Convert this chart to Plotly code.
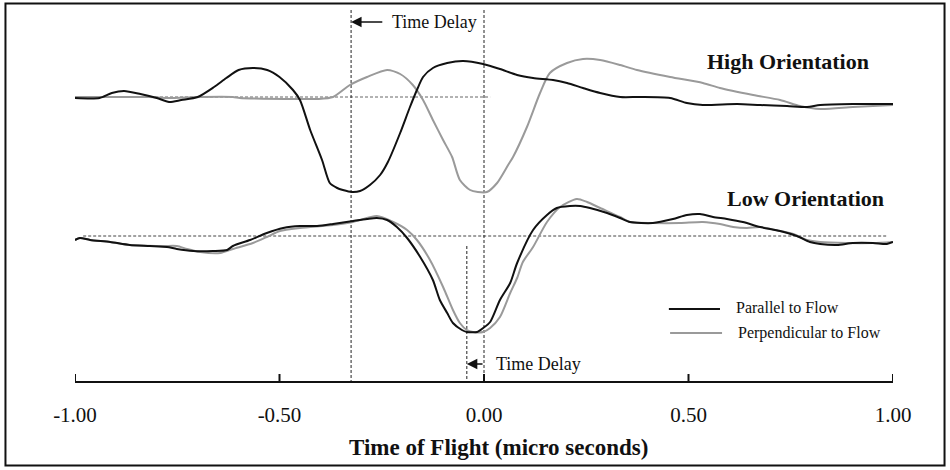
import plotly.graph_objects as go

# ---------------- data ----------------
# time axis in micro seconds, amplitudes in arbitrary units relative to each baseline
high_par_t = [-1.00, -0.94, -0.91, -0.88, -0.84, -0.80, -0.77, -0.74, -0.70, -0.66, -0.63, -0.60,
              -0.565, -0.53, -0.50, -0.467, -0.45, -0.425, -0.396, -0.377, -0.359, -0.345, -0.323,
              -0.303, -0.279, -0.254, -0.235, -0.205, -0.181, -0.164, -0.149, -0.125, -0.09, -0.051,
              -0.002, 0.039, 0.081, 0.12, 0.169, 0.203, 0.242, 0.284, 0.333, 0.381, 0.455, 0.496,
              0.535, 0.619, 0.675, 0.741, 0.79, 0.822, 0.902, 1.00]
high_par_a = [-1, -1, 4, 6, 3, -1, -5, -3, 0, 10, 19, 27,
              29, 27, 20, 7, -3, -33, -63, -86, -91, -93, -95,
              -94, -88, -78, -65, -36, -10, 7, 20, 29, 34, 36,
              33, 28, 22, 19, 17, 14, 9, 4, 0, 0, -1, -6,
              -8, -7, -8, -9, -10, -8, -7, -7]

high_perp_t = [-1.00, -0.94, -0.817, -0.775, -0.694, -0.614, -0.597, -0.45, -0.408, -0.369, -0.328,
               -0.286, -0.237, -0.205, -0.174, -0.149, -0.125, -0.10, -0.078, -0.059, -0.034, -0.015,
               0.007, 0.032, 0.059, 0.071, 0.105, 0.137, 0.161, 0.203, 0.242, 0.284, 0.333, 0.374,
               0.455, 0.535, 0.577, 0.658, 0.724, 0.773, 0.822, 0.902, 1.00]
high_perp_a = [0, 0, 0, -1, 0, 0, -1, -2, -2, 0, 12,
               20, 27, 23, 12, -3, -23, -43, -60, -83, -93, -95,
               -95, -86, -68, -60, -30, 4, 24, 34, 38, 37, 32, 27,
               20, 14, 9, 2, -3, -9, -12, -10, -8]

low_par_t = [-1.00, -0.988, -0.963, -0.914, -0.866, -0.817, -0.775, -0.751, -0.711, -0.663, -0.628,
             -0.614, -0.572, -0.531, -0.491, -0.45, -0.408, -0.369, -0.32, -0.286, -0.262, -0.237,
             -0.213, -0.188, -0.156, -0.125, -0.108, -0.09, -0.076, -0.054, -0.042, -0.017, -0.002,
             0.015, 0.039, 0.064, 0.081, 0.12, 0.154, 0.178, 0.21, 0.235, 0.259, 0.301, 0.333,
             0.357, 0.413, 0.462, 0.496, 0.528, 0.56, 0.594, 0.633, 0.675, 0.724, 0.765, 0.797,
             0.822, 0.863, 0.902, 0.951, 0.985, 1.00]
low_par_a = [-4, -2, -4, -6, -9, -10, -11, -13, -15, -15, -14,
             -10, -4, 3, 8, 10, 10, 12, 15, 17, 18, 16,
             9, -2, -21, -44, -64, -77, -87, -94, -96, -96, -92,
             -86, -64, -47, -27, 6, 21, 28, 30, 30, 28, 23, 18,
             14, 13, 17, 21, 22, 19, 17, 14, 9, 5, 0, -6,
             -8, -9, -7, -7, -8, -6]

low_perp_t = [-1.00, -0.988, -0.963, -0.914, -0.866, -0.785, -0.751, -0.726, -0.694, -0.645, -0.614,
              -0.565, -0.531, -0.499, -0.45, -0.369, -0.32, -0.262, -0.222, -0.188, -0.164, -0.132,
              -0.10, -0.076, -0.059, -0.042, -0.027, -0.002, 0.015, 0.039, 0.064, 0.081, 0.095,
              0.12, 0.154, 0.186, 0.227, 0.252, 0.284, 0.333, 0.357, 0.413, 0.479, 0.535, 0.577,
              0.609, 0.643, 0.675, 0.724, 0.756, 0.79, 0.822, 0.888, 0.951, 1.00]
low_perp_a = [-4, -2, -4, -6, -9, -10, -10, -13, -16, -17, -13,
              -7, -1, 5, 8, 11, 14, 20, 14, 6, -4, -24,
              -51, -74, -87, -94, -96, -96, -92, -81, -57, -42, -26,
              -11, 14, 29, 37, 34, 28, 19, 14, 13, 13, 14, 12,
              9, 8, 9, 5, 2, -4, -6, -7, -7, -6]

tick_vals = [-1.0, -0.5, 0.0, 0.5, 1.0]
tick_text = ["-1.00", "-0.50", "0.00", "0.50", "1.00"]

delay_high = [-0.325, 0.0]   # time-delay markers, high orientation
delay_low = [-0.042, 0.0]    # time-delay markers, low orientation

# ---------------- layout constants ----------------
HIGH_BASE = 284
LOW_BASE = 145
Y_TOP = 376
SERIF = "Liberation Serif, Times New Roman, serif"
BLACK = "#111111"
GRAY = "#9a9a9a"

fig = go.Figure()

# baselines (dotted)
fig.add_trace(go.Scatter(x=[-1.0, 0.015], y=[HIGH_BASE, HIGH_BASE], mode="lines",
                         line=dict(color="#666666", width=1, dash="3px,2px"), hoverinfo="skip"))
fig.add_trace(go.Scatter(x=[-0.98, 0.985], y=[LOW_BASE, LOW_BASE], mode="lines",
                         line=dict(color="#444444", width=1, dash="3px,2px"), hoverinfo="skip"))

# vertical delay markers
for xv in delay_high:
    fig.add_trace(go.Scatter(x=[xv, xv], y=[371, 0], mode="lines",
                             line=dict(color="#222222", width=1, dash="3px,2px"), hoverinfo="skip"))
fig.add_trace(go.Scatter(x=[delay_low[0], delay_low[0]], y=[135, 0], mode="lines",
                         line=dict(color="#222222", width=1, dash="3px,2px"), hoverinfo="skip"))

def add_curve(t, a, base, color):
    fig.add_trace(go.Scatter(x=t, y=[base + v for v in a], mode="lines",
                             line=dict(color=color, width=2, shape="spline", smoothing=0.7),
                             hoverinfo="skip"))

add_curve(high_perp_t, high_perp_a, HIGH_BASE, GRAY)
add_curve(high_par_t, high_par_a, HIGH_BASE, BLACK)
add_curve(low_perp_t, low_perp_a, LOW_BASE, GRAY)
add_curve(low_par_t, low_par_a, LOW_BASE, BLACK)

annotations = [
    # top time delay
    dict(x=delay_high[0], y=359, ax=-0.245, ay=359, axref="x", ayref="y", xref="x", yref="y",
         text="", showarrow=True, arrowhead=2, arrowsize=1.4, arrowwidth=1.5, arrowcolor=BLACK),
    dict(x=-0.120, y=359, xref="x", yref="y", text="Time Delay", showarrow=False,
         font=dict(family=SERIF, size=18, color=BLACK)),
    # bottom time delay
    dict(x=delay_low[0], y=17, ax=delay_low[1], ay=17, axref="x", ayref="y", xref="x", yref="y",
         text="", showarrow=True, arrowhead=2, arrowsize=1.4, arrowwidth=1.5, arrowcolor=BLACK),
    dict(x=0.134, y=17, xref="x", yref="y", text="Time Delay", showarrow=False,
         font=dict(family=SERIF, size=18, color=BLACK)),
    dict(x=0.743, y=320, xref="x", yref="y", text="<b>High Orientation</b>", showarrow=False,
         font=dict(family=SERIF, size=22, color=BLACK)),
    dict(x=0.787, y=183, xref="x", yref="y", text="<b>Low Orientation</b>", showarrow=False,
         font=dict(family=SERIF, size=22, color=BLACK)),
    dict(x=0.612, y=74, xref="x", yref="y", text="Parallel to Flow", showarrow=False, xanchor="left",
         font=dict(family=SERIF, size=16, color=BLACK)),
    dict(x=0.617, y=48, xref="x", yref="y", text="Perpendicular to Flow", showarrow=False, xanchor="left",
         font=dict(family=SERIF, size=16, color=BLACK)),
    # axis title
    dict(x=0.518, y=-0.178, xref="paper", yref="paper", text="<b>Time of Flight (micro seconds)</b>",
         showarrow=False, xanchor="center", yanchor="middle",
         font=dict(family=SERIF, size=23, color=BLACK)),
]

shapes = [
    dict(type="line", xref="x", yref="y", x0=0.452, x1=0.577, y0=72, y1=72,
         line=dict(color=BLACK, width=2)),
    dict(type="line", xref="x", yref="y", x0=0.455, x1=0.582, y0=48, y1=48,
         line=dict(color=GRAY, width=2)),
    dict(type="rect", xref="paper", yref="paper", x0=-0.085, x1=1.063, y0=-0.2247, y1=1.004,
         line=dict(color=BLACK, width=2), fillcolor="rgba(0,0,0,0)", layer="above"),
]
# tick marks pointing up from the axis line
for tv in tick_vals:
    shapes.append(dict(type="line", xref="x", yref="y", x0=tv, x1=tv, y0=-1, y1=7,
                       line=dict(color=BLACK, width=2)))

fig.update_layout(
    width=950, height=470,
    margin=dict(l=75, r=57, t=5, b=89),
    paper_bgcolor="white", plot_bgcolor="white",
    showlegend=False,
    annotations=annotations, shapes=shapes,
    xaxis=dict(range=[-1.0, 1.0], tickvals=tick_vals, ticktext=tick_text,
               showgrid=False, zeroline=False, showline=True, linecolor=BLACK, linewidth=2,
               ticks="", ticklabelstandoff=14,
               tickfont=dict(family=SERIF, size=21, color=BLACK)),
    yaxis=dict(range=[0, Y_TOP], visible=False, showgrid=False, zeroline=False),
)

fig.write_html("out.html")
